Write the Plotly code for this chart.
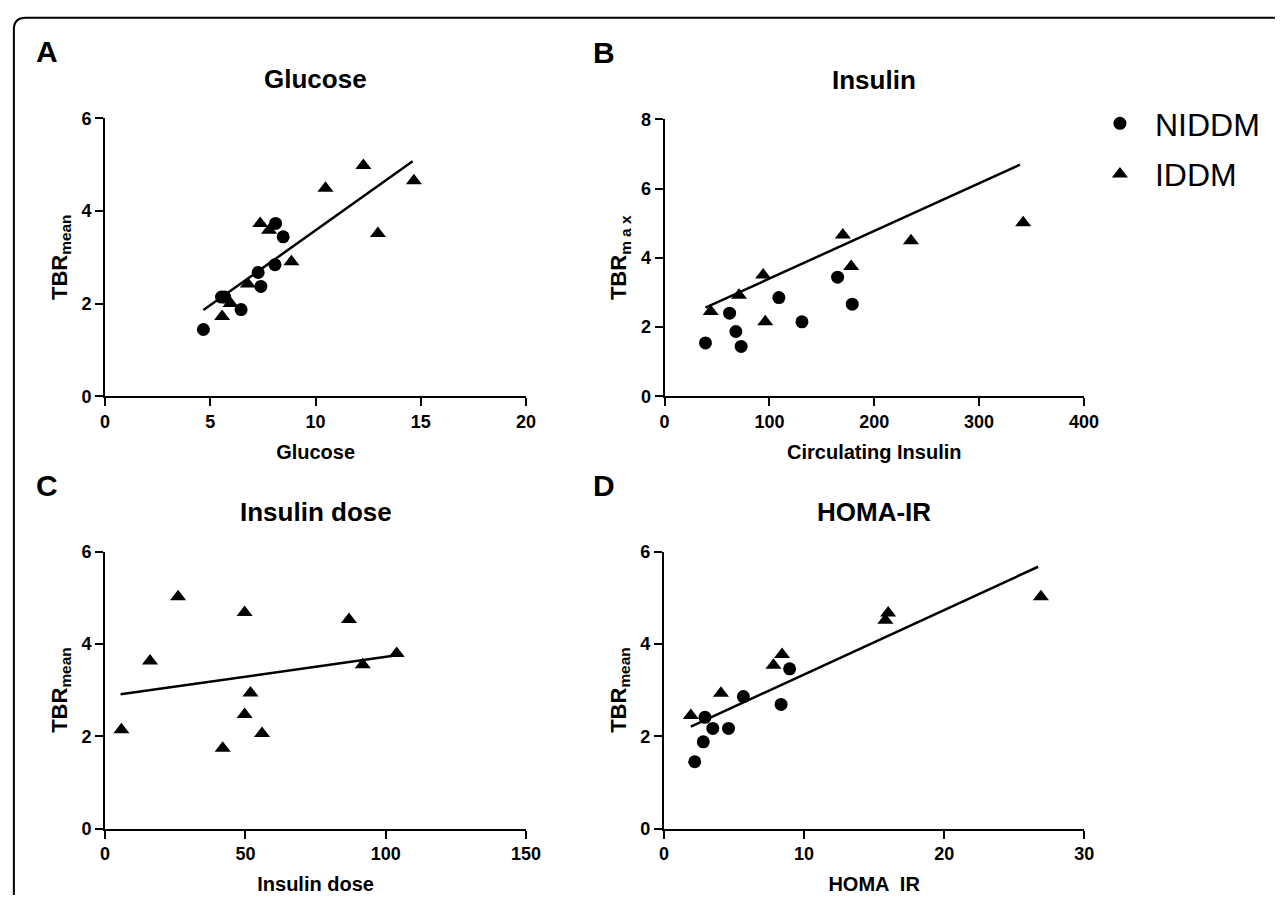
import plotly.graph_objects as go

W, H = 1287, 901

# ---------------- data ----------------
# Panel A: Glucose vs TBRmean
a_niddm_x = [4.67, 5.53, 5.68, 6.46, 7.27, 7.40, 8.07, 8.10, 8.46]
a_niddm_y = [1.44, 2.14, 2.14, 1.87, 2.67, 2.37, 2.84, 3.73, 3.44]
a_iddm_x = [5.56, 5.96, 6.78, 7.37, 7.79, 8.85, 10.47, 12.27, 12.96, 14.67]
a_iddm_y = [1.72, 2.00, 2.42, 3.73, 3.58, 2.90, 4.49, 4.98, 3.51, 4.65]
a_fit_x = [4.67, 14.61]
a_fit_y = [1.86, 5.07]

# Panel B: Circulating insulin vs TBRmax
b_niddm_x = [39, 62, 68, 73, 109, 131, 165, 179]
b_niddm_y = [1.54, 2.40, 1.87, 1.44, 2.85, 2.15, 3.44, 2.66]
b_iddm_x = [44, 71, 94, 96, 170, 178, 235, 342]
b_iddm_y = [2.45, 2.92, 3.50, 2.15, 4.66, 3.75, 4.49, 5.01]
b_fit_x = [39, 339]
b_fit_y = [2.56, 6.69]

# Panel C: Insulin dose vs TBRmean (IDDM only)
c_iddm_x = [5.8, 16.0, 26.0, 41.9, 49.7, 49.7, 51.8, 55.9, 86.9, 91.8, 103.9]
c_iddm_y = [2.14, 3.63, 5.02, 1.74, 4.68, 2.47, 2.94, 2.06, 4.53, 3.55, 3.79]
c_fit_x = [5.5, 105.8]
c_fit_y = [2.91, 3.77]

# Panel D: HOMA-IR vs TBRmean
d_niddm_x = [2.2, 2.81, 2.93, 3.49, 4.61, 5.67, 8.36, 8.97]
d_niddm_y = [1.45, 1.88, 2.41, 2.17, 2.17, 2.86, 2.69, 3.46]
d_iddm_x = [1.92, 4.07, 7.82, 8.43, 15.8, 16.0, 26.9]
d_iddm_y = [2.45, 2.93, 3.54, 3.77, 4.51, 4.67, 5.02]
d_fit_x = [1.92, 26.7]
d_fit_y = [2.21, 5.67]

panel_letters = ["A", "B", "C", "D"]
panel_titles = ["Glucose", "Insulin", "Insulin dose", "HOMA-IR"]
x_titles = ["Glucose", "Circulating Insulin", "Insulin dose", "HOMA  IR"]
y_titles = ["TBR<sub>mean</sub>", "TBR<sub>m a x</sub>", "TBR<sub>mean</sub>", "TBR<sub>mean</sub>"]
x_ranges = [[0, 20], [0, 400], [0, 150], [0, 30]]
x_dticks = [5, 100, 50, 10]
y_ranges = [[0, 6], [0, 8], [0, 6], [0, 6]]
y_dticks = [2, 2, 2, 2]
series_names = ["NIDDM", "IDDM"]

FONT = "Liberation Sans, Arial, sans-serif"


def px_x(v):
    return v / W


def px_y(v):
    return 1 - v / H


# pixel boxes of each plotting area: (left, right, bottom, top)
boxes = [
    (101.7, 529.3, 395.0, 110.7),
    (670.0, 1096.0, 395.0, 111.8),
    (101.7, 529.3, 837.3, 553.8),
    (669.3, 1096.4, 837.3, 553.8),
]

fig = go.Figure()

panels = [
    (a_niddm_x, a_niddm_y, a_iddm_x, a_iddm_y, a_fit_x, a_fit_y),
    (b_niddm_x, b_niddm_y, b_iddm_x, b_iddm_y, b_fit_x, b_fit_y),
    (None, None, c_iddm_x, c_iddm_y, c_fit_x, c_fit_y),
    (d_niddm_x, d_niddm_y, d_iddm_x, d_iddm_y, d_fit_x, d_fit_y),
]

for i, (nx, ny, ix, iy, fx, fy) in enumerate(panels):
    sfx = "" if i == 0 else str(i + 1)
    xa, ya = "x" + sfx, "y" + sfx
    fig.add_trace(go.Scatter(x=fx, y=fy, mode="lines", xaxis=xa, yaxis=ya,
                             line=dict(color="black", width=2.5),
                             showlegend=False, hoverinfo="skip"))
    if nx is not None:
        fig.add_trace(go.Scatter(x=nx, y=ny, mode="markers", xaxis=xa, yaxis=ya,
                                 name=series_names[0], legendgroup="g1",
                                 showlegend=(i == 0), cliponaxis=False,
                                 marker=dict(symbol="circle", size=13, color="black")))
    fig.add_trace(go.Scatter(x=ix, y=iy, mode="markers", xaxis=xa, yaxis=ya,
                             name=series_names[1], legendgroup="g2",
                             showlegend=(i == 0), cliponaxis=False,
                             marker=dict(symbol="triangle-up", size=14, color="black")))

layout = dict(
    width=W, height=H,
    margin=dict(l=0, r=0, t=0, b=0),
    paper_bgcolor="white", plot_bgcolor="white",
    font=dict(family=FONT, color="black"),
    showlegend=True,
    legend=dict(x=px_x(1097), y=px_y(88), xanchor="left", yanchor="top",
                font=dict(family=FONT, size=32, color="black"),
                tracegroupgap=6, itemwidth=60, bgcolor="rgba(0,0,0,0)"),
)

annotations = []
for i in range(4):
    L, R, B, T = boxes[i]
    sfx = "" if i == 0 else str(i + 1)
    common = dict(showline=True, linewidth=2, linecolor="black", ticks="outside",
                  ticklen=8, tickwidth=2, tickcolor="black", showgrid=False,
                  zeroline=False, tick0=0, fixedrange=True)
    layout["xaxis" + sfx] = dict(
        domain=[px_x(L), px_x(R)], range=x_ranges[i], dtick=x_dticks[i],
        anchor="y" + sfx,
        tickfont=dict(family=FONT, size=18, color="black", weight="bold"),
        title=dict(text=x_titles[i], standoff=14,
                   font=dict(family=FONT, size=20, color="black", weight="bold")),
        **common)
    layout["yaxis" + sfx] = dict(
        domain=[px_y(B), px_y(T)], range=y_ranges[i], dtick=y_dticks[i],
        anchor="x" + sfx,
        tickfont=dict(family=FONT, size=18, color="black", weight="bold"),
        title=dict(text=y_titles[i], standoff=8,
                   font=dict(family=FONT, size=22, color="black", weight="bold")),
        **common)
    # panel letter and panel title
    letter_x = 43 if i % 2 == 0 else 608
    annotations.append(dict(text=panel_letters[i], xref="paper", yref="paper",
                            x=px_x(letter_x), y=px_y(T - 68), showarrow=False,
                            xanchor="center", yanchor="middle",
                            font=dict(family=FONT, size=30, color="black", weight="bold")))
    annotations.append(dict(text=panel_titles[i], xref="paper", yref="paper",
                            x=px_x((L + R) / 2), y=px_y(T - 40), showarrow=False,
                            xanchor="center", yanchor="middle",
                            font=dict(family=FONT, size=26, color="black", weight="bold")))
layout["annotations"] = annotations

# rounded frame (left and top edges visible)
frame = "M {x0},{y0} L {x0},{y1} Q {x0},{y2} {x3},{y2} L {x4},{y2}".format(
    x0=px_x(9), y0=px_y(905), y1=px_y(20), y2=px_y(8), x3=px_x(21), x4=px_x(1290))
layout["shapes"] = [dict(type="path", path=frame, xref="paper", yref="paper",
                         line=dict(color="black", width=2))]

fig.update_layout(**layout)

fig.write_html("out.html", config={"displayModeBar": False},
               post_script="document.body.style.margin='0px';document.body.style.overflow='hidden';")
